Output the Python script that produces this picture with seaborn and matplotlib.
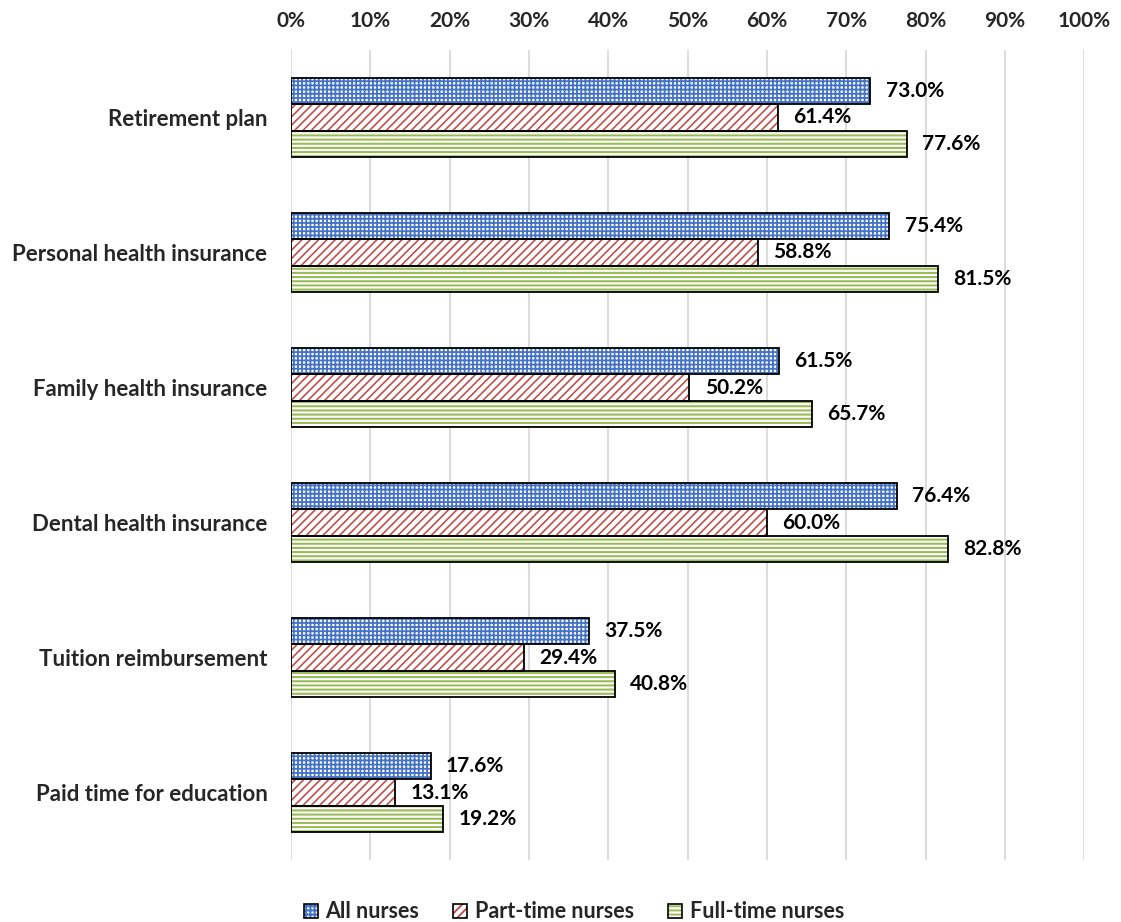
import matplotlib
matplotlib.use("Agg")
import matplotlib.pyplot as plt
import seaborn as sns
import pandas as pd
from matplotlib.patches import Rectangle, Patch
from matplotlib.legend_handler import HandlerTuple
from matplotlib.ticker import PercentFormatter

categories = ["Retirement plan", "Personal health insurance", "Family health insurance",
              "Dental health insurance", "Tuition reimbursement", "Paid time for education"]
series = ["All nurses", "Part-time nurses", "Full-time nurses"]
all_nurses = [73.0, 75.4, 61.5, 76.4, 37.5, 17.6]
part_time = [61.4, 58.8, 50.2, 60.0, 29.4, 13.1]
full_time = [77.6, 81.5, 65.7, 82.8, 40.8, 19.2]

colors = ["#4472C4", "#C0504D", "#9BBB59"]
hatches = ["++++", "////", "----"]
hatch_lws = [1.3, 1.2, 1.5]

rows = []
for s, vals in zip(series, [all_nurses, part_time, full_time]):
    for c, v in zip(categories, vals):
        rows.append({"Benefit": c, "Series": s, "Value": v})
df = pd.DataFrame(rows)

sns.set_theme(style="white")
plt.rcParams["font.family"] = ["Lato", "DejaVu Sans"]
plt.rcParams["hatch.linewidth"] = 1.4

FS = 16

fig = plt.figure(figsize=(11.21, 9.22), dpi=100)
ax = fig.add_axes([0.2596, 0.0672, 0.7078, 0.8786])

sns.barplot(data=df, y="Benefit", x="Value", hue="Series", order=categories,
            hue_order=series, orient="h", width=0.58, ax=ax, legend=False,
            palette=["white"] * 3, saturation=1)


def style_hatch(p, i):
    p.set_facecolor("white")
    p.set_hatch(hatches[i])
    p.set_edgecolor(colors[i])
    p.set_linewidth(0)
    if hasattr(p, "set_hatch_linewidth"):
        p.set_hatch_linewidth(hatch_lws[i])


for i, cont in enumerate(ax.containers):
    for p in cont.patches:
        style_hatch(p, i)
        ax.add_patch(Rectangle(p.get_xy(), p.get_width(), p.get_height(),
                               fill=False, edgecolor="black", linewidth=1.3,
                               zorder=p.get_zorder() + 0.1))
    ax.bar_label(cont, labels=[f"{v:.1f}%" for v in cont.datavalues], padding=11,
                 fontsize=15, fontweight="bold", color="black")

ax.set_xlim(0, 100)
ax.set_xticks(range(0, 101, 10))
ax.xaxis.set_major_formatter(PercentFormatter(decimals=0))
ax.xaxis.tick_top()
ax.tick_params(axis="x", length=0, pad=14, labelsize=15)
ax.tick_params(axis="y", length=0, pad=17, labelsize=FS)
for lbl in ax.get_xticklabels() + ax.get_yticklabels():
    lbl.set_fontweight("bold")
ax.set_xlabel("")
ax.set_ylabel("")
ax.grid(axis="x", color="#d9d9d9", linewidth=1.3)
ax.set_axisbelow(True)
for s in ax.spines.values():
    s.set_visible(False)

handles = []
for i in range(3):
    h1 = Patch(facecolor="white", edgecolor=colors[i], hatch=hatches[i], linewidth=0)
    if hasattr(h1, "set_hatch_linewidth"):
        h1.set_hatch_linewidth(hatch_lws[i])
    h2 = Patch(facecolor="none", edgecolor="black", linewidth=1.2)
    handles.append((h1, h2))
fig.legend(handles, series, handler_map={tuple: HandlerTuple(ndivide=1)},
           loc="center", bbox_to_anchor=(0.512, 0.011), ncol=3, frameon=False,
           prop={"weight": "bold", "size": 15.5}, handlelength=0.65, handleheight=0.65,
           columnspacing=1.6, handletextpad=0.35, borderpad=0)

fig.savefig("out.png", dpi=100)
